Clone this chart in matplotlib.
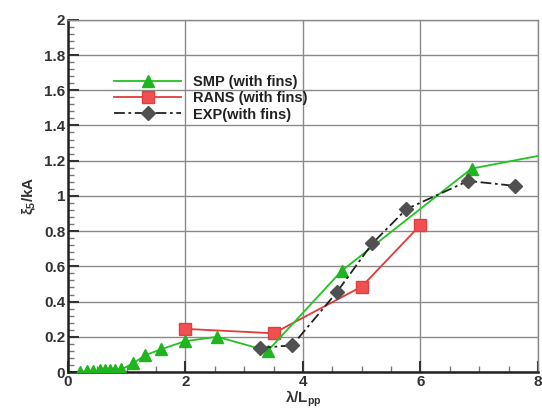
import matplotlib
matplotlib.use("Agg")
import matplotlib.pyplot as plt
from matplotlib.ticker import MultipleLocator, FuncFormatter

smp_x = [0.20, 0.32, 0.43, 0.54, 0.63, 0.71, 0.80, 0.91, 1.11, 1.31, 1.59, 1.99, 2.54, 3.40, 4.66, 6.87, 8.60]
smp_y = [0.00, 0.005, 0.005, 0.01, 0.01, 0.01, 0.01, 0.015, 0.05, 0.095, 0.13, 0.175, 0.20, 0.12, 0.575, 1.155, 1.265]
rans_x = [2.0, 3.5, 5.0, 6.0]
rans_y = [0.245, 0.22, 0.485, 0.835]
exp_x = [3.27, 3.82, 4.58, 5.18, 5.76, 6.81, 7.61]
exp_y = [0.137, 0.152, 0.455, 0.73, 0.925, 1.085, 1.057]

plt.rcParams['font.family'] = ['Liberation Sans', 'DejaVu Sans']
plt.rcParams['mathtext.fontset'] = 'custom'
plt.rcParams['mathtext.rm'] = 'Liberation Sans:bold'
plt.rcParams['mathtext.it'] = 'Liberation Sans:bold'

fig = plt.figure(figsize=(5.42, 4.12), dpi=100)
ax = fig.add_axes([0.1255, 0.097, 0.867, 0.855])

ax.plot(smp_x, smp_y, color='#22c322', lw=1.3, marker='^', ms=8, mfc='#1fb51f', mec='#1fb51f',
        label='SMP (with fins)', zorder=4)
ax.plot(rans_x, rans_y, color='#e03a3a', lw=1.3, marker='s', ms=8, mfc='#f05050', mec='#e04040',
        label='RANS (with fins)', zorder=3)
ax.plot(exp_x, exp_y, color='#222222', lw=1.3, ls=(0, (6, 2, 1.5, 2)), marker='D', ms=7,
        mfc='#505050', mec='#505050', label='EXP(with fins)', zorder=5)

ax.set_xlim(0, 8)
ax.set_ylim(0, 2)
ax.xaxis.set_major_locator(MultipleLocator(2))
ax.xaxis.set_minor_locator(MultipleLocator(0.5))
ax.yaxis.set_major_locator(MultipleLocator(0.2))
ax.yaxis.set_minor_locator(MultipleLocator(0.04))
ax.yaxis.set_major_formatter(FuncFormatter(lambda v, p: ('%g' % round(v, 1))))
ax.xaxis.set_major_formatter(FuncFormatter(lambda v, p: ('%g' % v)))

ax.grid(True, which='major', color='#8a8a8a', lw=1.0)
ax.tick_params(which='both', direction='in', top=False, right=False, colors='#333333',
               labelsize=11, labelcolor='#333333')
ax.tick_params(which='major', length=8, width=1.5, pad=2)
ax.tick_params(which='minor', length=4, width=1.0, color='#777777')
for lab in ax.get_xticklabels() + ax.get_yticklabels():
    lab.set_fontweight('bold')

for s in ['left', 'bottom']:
    ax.spines[s].set_color('#222222')
    ax.spines[s].set_linewidth(1.8)
for s in ['top', 'right']:
    ax.spines[s].set_color('#8a8a8a')
    ax.spines[s].set_linewidth(1.0)

ax.set_xlabel(r'$\lambda$/L$_{\mathrm{pp}}$', fontsize=11, fontweight='bold', color='#333333', labelpad=0)
ax.set_ylabel(r'$\xi_5$/kA', fontsize=11, fontweight='bold', color='#333333', labelpad=4)

leg = ax.legend(loc='upper left', bbox_to_anchor=(0.07, 0.88), frameon=False, handlelength=4.6,
                handletextpad=0.8, labelspacing=0.15, prop={'weight': 'bold', 'size': 10.5})
for t in leg.get_texts():
    t.set_color('#222222')

fig.savefig('out.png', dpi=100)
